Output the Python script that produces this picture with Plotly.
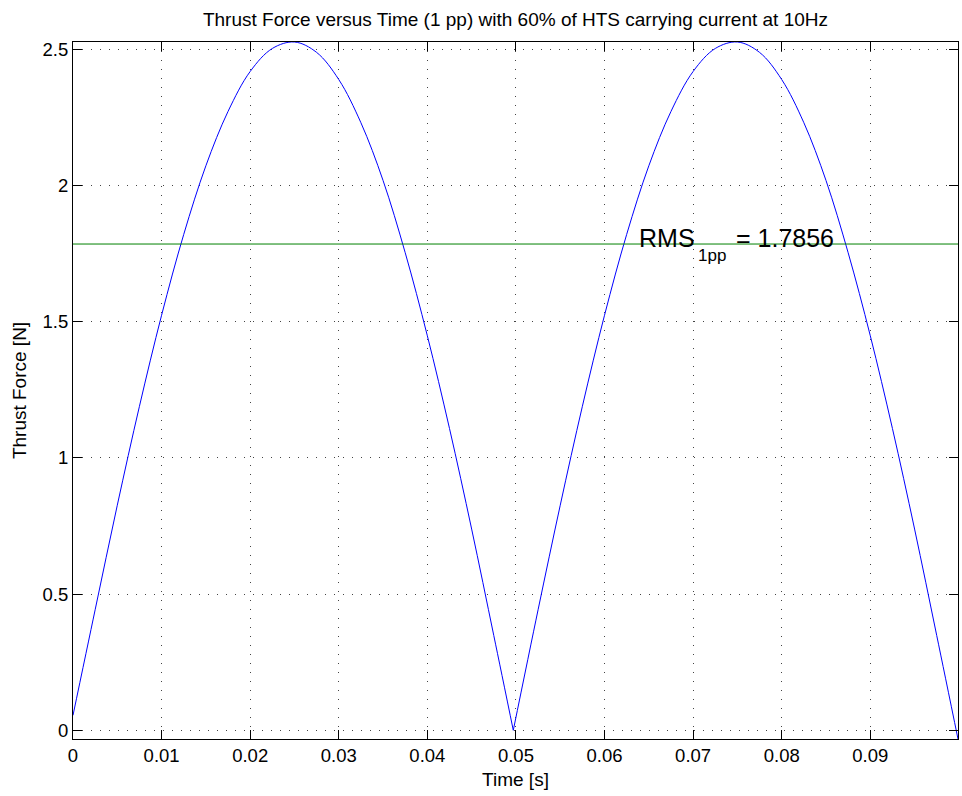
import plotly.graph_objects as go

# Thrust force samples (one pole pitch, 60% of HTS carrying current, 10 Hz)
time_s = [
    0.0, 0.0025, 0.005, 0.0075, 0.01, 0.0125, 0.015, 0.0175, 0.02, 0.0225,
    0.025, 0.0275, 0.03, 0.0325, 0.035, 0.0375, 0.04, 0.0425, 0.045, 0.0475,
    0.0497,
    0.0525, 0.055, 0.0575, 0.06, 0.0625, 0.065, 0.0675, 0.07, 0.0725,
    0.075, 0.0775, 0.08, 0.0825, 0.085, 0.0875, 0.09, 0.0925, 0.095, 0.0975,
    0.0999,
]
force_n = [
    0.055, 0.4425, 0.8264, 1.1898, 1.5242, 1.8210, 2.0730, 2.2725, 2.4192, 2.5037,
    2.5275, 2.4893, 2.3896, 2.2310, 2.0190, 1.7537, 1.4486, 1.1082, 0.7389, 0.3477,
    0.0,
    0.4425, 0.8264, 1.1898, 1.5242, 1.8210, 2.0730, 2.2725, 2.4192, 2.5037,
    2.5275, 2.4893, 2.3896, 2.2310, 2.0190, 1.7537, 1.4486, 1.1082, 0.7389, 0.3477,
    -0.032,
]
rms_1pp = 1.7856

x_ticks = [0, 0.01, 0.02, 0.03, 0.04, 0.05, 0.06, 0.07, 0.08, 0.09]
x_tick_labels = ["0", "0.01", "0.02", "0.03", "0.04", "0.05", "0.06", "0.07", "0.08", "0.09"]
y_ticks = [0, 0.5, 1, 1.5, 2, 2.5]
y_tick_labels = ["0", "0.5", "1", "1.5", "2", "2.5"]

FONT = "Liberation Sans, Arial, Helvetica, sans-serif"

# the force touches zero between the two half-waves; split there so each
# lobe is smoothed separately and the cusp stays sharp
cusp = min(range(1, len(force_n) - 1), key=lambda i: force_n[i])

fig = go.Figure()
for seg in (slice(0, cusp + 1), slice(cusp, None)):
    fig.add_trace(go.Scatter(
        x=time_s[seg], y=force_n[seg], mode="lines",
        line=dict(color="#0000ff", width=1, shape="spline"),
        showlegend=False, hoverinfo="x+y",
    ))

# RMS level across the whole time window
fig.add_trace(go.Scatter(
    x=[time_s[0], time_s[-1]], y=[rms_1pp, rms_1pp], mode="lines",
    line=dict(color="#008000", width=1), showlegend=False,
))

# RMS label, written in pieces so the subscript sits low like a TeX label
label_parts = [
    ("RMS", 0.06377, 1.8068, 25),
    ("1pp", 0.07045, 1.7426, 17),
    (f"= {rms_1pp:.4f}", 0.07472, 1.8068, 25),
]
for text, x, y, size in label_parts:
    fig.add_annotation(
        x=x, y=y, xref="x", yref="y", text=text,
        showarrow=False, xanchor="left", yanchor="middle", borderpad=0,
        font=dict(family=FONT, size=size, color="black"),
    )

axis_common = dict(
    showline=True, linecolor="black", linewidth=1, mirror="ticks",
    ticks="inside", ticklen=9, tickcolor="black", tickwidth=1,
    showgrid=True, gridcolor="#444444", gridwidth=1, griddash="1px,8px",
    zeroline=False,
    tickfont=dict(family=FONT, size=18.5, color="black"),
)

fig.update_layout(
    width=962, height=796,
    margin=dict(l=73, r=4, t=42, b=57),
    paper_bgcolor="white", plot_bgcolor="white",
    font=dict(family=FONT, color="black"),
    title=dict(
        text="Thrust Force versus Time (1 pp) with 60% of HTS carrying current at 10Hz",
        x=(73 + 958) / 2 / 962, xanchor="center",
        y=1 - 19 / 796, yanchor="middle", yref="container",
        font=dict(family=FONT, size=19, color="black"),
    ),
    xaxis=dict(
        axis_common,
        range=[time_s[0], time_s[-1]],
        tickvals=x_ticks, ticktext=x_tick_labels,
        title=dict(text="Time [s]", font=dict(family=FONT, size=19), standoff=7),
    ),
    yaxis=dict(
        axis_common,
        range=[min(force_n), max(force_n)],
        tickvals=y_ticks, ticktext=y_tick_labels,
        title=dict(text="Thrust Force [N]", font=dict(family=FONT, size=19), standoff=10),
    ),
)

fig.write_html("out.html")
